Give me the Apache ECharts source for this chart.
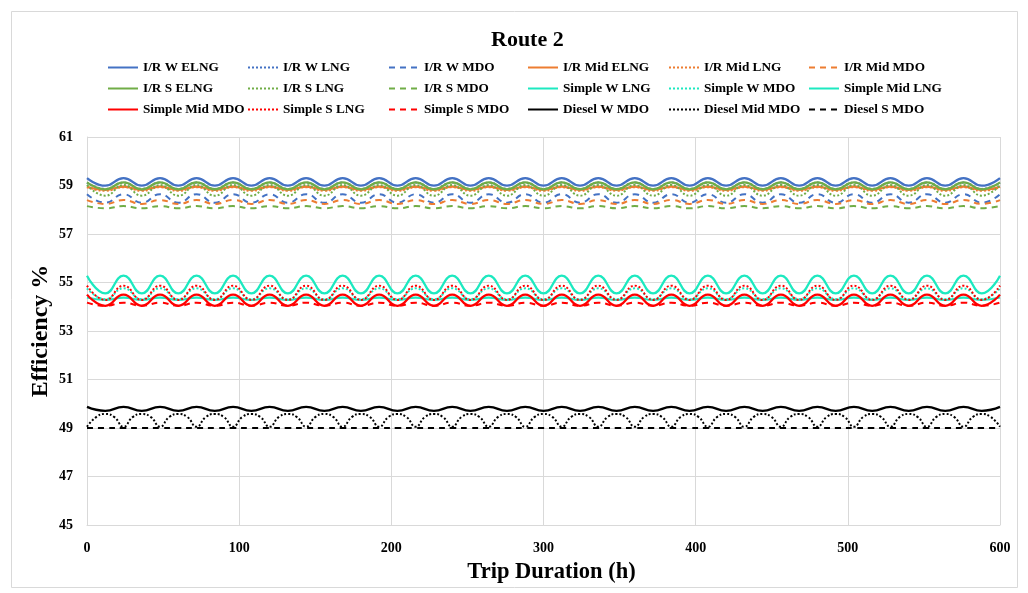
<!DOCTYPE html>
<html>
<head>
<meta charset="utf-8">
<script src="https://cdn.jsdelivr.net/npm/echarts@6/dist/echarts.min.js"></script>
<style>html,body{margin:0;padding:0;background:#fff}#c{width:1028px;height:593px}</style>
</head>
<body>
<div id="c"></div>
<script>
// x values (hours)
const hours12 = [0,12,24,36,48,60,72,84,96,108,120,132,144,156,168,180,192,204,216,228,240,252,264,276,288,300,312,324,336,348,360,372,384,396,408,420,432,444,456,468,480,492,504,516,528,540,552,564,576,588,600];
const hours6 = [0,6,12,18,24,30,36,42,48,54,60,66,72,78,84,90,96,102,108,114,120,126,132,138,144,150,156,162,168,174,180,186,192,198,204,210,216,222,228,234,240,246,252,258,264,270,276,282,288,294,300,306,312,318,324,330,336,342,348,354,360,366,372,378,384,390,396,402,408,414,420,426,432,438,444,450,456,462,468,474,480,486,492,498,504,510,516,522,528,534,540,546,552,558,564,570,576,582,588,594,600];

const seriesNames = ['I/R W ELNG','I/R W LNG','I/R W MDO','I/R Mid ELNG','I/R Mid LNG','I/R Mid MDO',
  'I/R S ELNG','I/R S LNG','I/R S MDO','Simple W LNG','Simple W MDO','Simple Mid LNG',
  'Simple Mid MDO','Simple S LNG','Simple S MDO','Diesel W MDO','Diesel Mid MDO','Diesel S MDO'];

const irWElng = [
59.30,58.99,59.30,58.99,59.30,58.99,59.30,58.99,59.30,58.99,
59.30,58.99,59.30,58.99,59.30,58.99,59.30,58.99,59.30,58.99,
59.30,58.99,59.30,58.99,59.30,58.99,59.30,58.99,59.30,58.99,
59.30,58.99,59.30,58.99,59.30,58.99,59.30,58.99,59.30,58.99,
59.30,58.99,59.30,58.99,59.30,58.99,59.30,58.99,59.30,58.99,
59.30];
const irWLng = [
59.12,58.86,59.12,58.86,59.12,58.86,59.12,58.86,59.12,58.86,
59.12,58.86,59.12,58.86,59.12,58.86,59.12,58.86,59.12,58.86,
59.12,58.86,59.12,58.86,59.12,58.86,59.12,58.86,59.12,58.86,
59.12,58.86,59.12,58.86,59.12,58.86,59.12,58.86,59.12,58.86,
59.12,58.86,59.12,58.86,59.12,58.86,59.12,58.86,59.12,58.86,
59.12];
const irWMdo = [
58.64,58.29,58.64,58.29,58.64,58.29,58.64,58.29,58.64,58.29,
58.64,58.29,58.64,58.29,58.64,58.29,58.64,58.29,58.64,58.29,
58.64,58.29,58.64,58.29,58.64,58.29,58.64,58.29,58.64,58.29,
58.64,58.29,58.64,58.29,58.64,58.29,58.64,58.29,58.64,58.29,
58.64,58.29,58.64,58.29,58.64,58.29,58.64,58.29,58.64,58.29,
58.64];
const irMidElng = [
58.95,58.82,58.95,58.82,58.95,58.82,58.95,58.82,58.95,58.82,
58.95,58.82,58.95,58.82,58.95,58.82,58.95,58.82,58.95,58.82,
58.95,58.82,58.95,58.82,58.95,58.82,58.95,58.82,58.95,58.82,
58.95,58.82,58.95,58.82,58.95,58.82,58.95,58.82,58.95,58.82,
58.95,58.82,58.95,58.82,58.95,58.82,58.95,58.82,58.95,58.82,
58.95];
const irMidLng = [
58.93,58.78,58.93,58.78,58.93,58.78,58.93,58.78,58.93,58.78,
58.93,58.78,58.93,58.78,58.93,58.78,58.93,58.78,58.93,58.78,
58.93,58.78,58.93,58.78,58.93,58.78,58.93,58.78,58.93,58.78,
58.93,58.78,58.93,58.78,58.93,58.78,58.93,58.78,58.93,58.78,
58.93,58.78,58.93,58.78,58.93,58.78,58.93,58.78,58.93,58.78,
58.93];
const irMidMdo = [
58.40,58.24,58.40,58.24,58.40,58.24,58.40,58.24,58.40,58.24,
58.40,58.24,58.40,58.24,58.40,58.24,58.40,58.24,58.40,58.24,
58.40,58.24,58.40,58.24,58.40,58.24,58.40,58.24,58.40,58.24,
58.40,58.24,58.40,58.24,58.40,58.24,58.40,58.24,58.40,58.24,
58.40,58.24,58.40,58.24,58.40,58.24,58.40,58.24,58.40,58.24,
58.40];
const irSElng = [
59.13,58.84,59.13,58.84,59.13,58.84,59.13,58.84,59.13,58.84,
59.13,58.84,59.13,58.84,59.13,58.84,59.13,58.84,59.13,58.84,
59.13,58.84,59.13,58.84,59.13,58.84,59.13,58.84,59.13,58.84,
59.13,58.84,59.13,58.84,59.13,58.84,59.13,58.84,59.13,58.84,
59.13,58.84,59.13,58.84,59.13,58.84,59.13,58.84,59.13,58.84,
59.13];
const irSLng = [
59.02,58.58,59.02,58.58,59.02,58.58,59.02,58.58,59.02,58.58,
59.02,58.58,59.02,58.58,59.02,58.58,59.02,58.58,59.02,58.58,
59.02,58.58,59.02,58.58,59.02,58.58,59.02,58.58,59.02,58.58,
59.02,58.58,59.02,58.58,59.02,58.58,59.02,58.58,59.02,58.58,
59.02,58.58,59.02,58.58,59.02,58.58,59.02,58.58,59.02,58.58,
59.02];
const irSMdo = [
58.15,58.06,58.15,58.06,58.15,58.06,58.15,58.06,58.15,58.06,
58.15,58.06,58.15,58.06,58.15,58.06,58.15,58.06,58.15,58.06,
58.15,58.06,58.15,58.06,58.15,58.06,58.15,58.06,58.15,58.06,
58.15,58.06,58.15,58.06,58.15,58.06,58.15,58.06,58.15,58.06,
58.15,58.06,58.15,58.06,58.15,58.06,58.15,58.06,58.15,58.06,
58.15];
const simpleWLng = [
55.28,54.55,55.28,54.55,55.28,54.55,55.28,54.55,55.28,54.55,
55.28,54.55,55.28,54.55,55.28,54.55,55.28,54.55,55.28,54.55,
55.28,54.55,55.28,54.55,55.28,54.55,55.28,54.55,55.28,54.55,
55.28,54.55,55.28,54.55,55.28,54.55,55.28,54.55,55.28,54.55,
55.28,54.55,55.28,54.55,55.28,54.55,55.28,54.55,55.28,54.55,
55.28];
const simpleWMdo = [
54.76,54.31,54.76,54.31,54.76,54.31,54.76,54.31,54.76,54.31,
54.76,54.31,54.76,54.31,54.76,54.31,54.76,54.31,54.76,54.31,
54.76,54.31,54.76,54.31,54.76,54.31,54.76,54.31,54.76,54.31,
54.76,54.31,54.76,54.31,54.76,54.31,54.76,54.31,54.76,54.31,
54.76,54.31,54.76,54.31,54.76,54.31,54.76,54.31,54.76,54.31,
54.76];
const simpleMidLng = [
54.38,54.28,54.38,54.28,54.38,54.28,54.38,54.28,54.38,54.28,
54.38,54.28,54.38,54.28,54.38,54.28,54.38,54.28,54.38,54.28,
54.38,54.28,54.38,54.28,54.38,54.28,54.38,54.28,54.38,54.28,
54.38,54.28,54.38,54.28,54.38,54.28,54.38,54.28,54.38,54.28,
54.38,54.28,54.38,54.28,54.38,54.28,54.38,54.28,54.38,54.28,
54.38];
const simpleMidMdo = [
54.50,54.04,54.50,54.04,54.50,54.04,54.50,54.04,54.50,54.04,
54.50,54.04,54.50,54.04,54.50,54.04,54.50,54.04,54.50,54.04,
54.50,54.04,54.50,54.04,54.50,54.04,54.50,54.04,54.50,54.04,
54.50,54.04,54.50,54.04,54.50,54.04,54.50,54.04,54.50,54.04,
54.50,54.04,54.50,54.04,54.50,54.04,54.50,54.04,54.50,54.04,
54.50];
const simpleSLng = [
54.87,54.28,54.87,54.28,54.87,54.28,54.87,54.28,54.87,54.28,
54.87,54.28,54.87,54.28,54.87,54.28,54.87,54.28,54.87,54.28,
54.87,54.28,54.87,54.28,54.87,54.28,54.87,54.28,54.87,54.28,
54.87,54.28,54.87,54.28,54.87,54.28,54.87,54.28,54.87,54.28,
54.87,54.28,54.87,54.28,54.87,54.28,54.87,54.28,54.87,54.28,
54.87];
const simpleSMdo = [
54.17,54.04,54.17,54.04,54.17,54.04,54.17,54.04,54.17,54.04,
54.17,54.04,54.17,54.04,54.17,54.04,54.17,54.04,54.17,54.04,
54.17,54.04,54.17,54.04,54.17,54.04,54.17,54.04,54.17,54.04,
54.17,54.04,54.17,54.04,54.17,54.04,54.17,54.04,54.17,54.04,
54.17,54.04,54.17,54.04,54.17,54.04,54.17,54.04,54.17,54.04,
54.17];
const dieselWMdo = [
49.87,49.71,49.87,49.71,49.87,49.71,49.87,49.71,49.87,49.71,
49.87,49.71,49.87,49.71,49.87,49.71,49.87,49.71,49.87,49.71,
49.87,49.71,49.87,49.71,49.87,49.71,49.87,49.71,49.87,49.71,
49.87,49.71,49.87,49.71,49.87,49.71,49.87,49.71,49.87,49.71,
49.87,49.71,49.87,49.71,49.87,49.71,49.87,49.71,49.87,49.71,
49.87];
// sampled every 6 h (arch-shaped)
const dieselMidMdo = [
49.05,49.45,49.58,49.45,49.05,49.45,49.58,49.45,49.05,49.45,49.58,49.45,49.05,49.45,49.58,49.45,49.05,49.45,49.58,49.45,
49.05,49.45,49.58,49.45,49.05,49.45,49.58,49.45,49.05,49.45,49.58,49.45,49.05,49.45,49.58,49.45,49.05,49.45,49.58,49.45,
49.05,49.45,49.58,49.45,49.05,49.45,49.58,49.45,49.05,49.45,49.58,49.45,49.05,49.45,49.58,49.45,49.05,49.45,49.58,49.45,
49.05,49.45,49.58,49.45,49.05,49.45,49.58,49.45,49.05,49.45,49.58,49.45,49.05,49.45,49.58,49.45,49.05,49.45,49.58,49.45,
49.05,49.45,49.58,49.45,49.05,49.45,49.58,49.45,49.05,49.45,49.58,49.45,49.05,49.45,49.58,49.45,49.05,49.45,49.58,49.45,
49.05];
const dieselSMdo = [
49.00,49.00,49.00,49.00,49.00,49.00,49.00,49.00,49.00,49.00,
49.00,49.00,49.00,49.00,49.00,49.00,49.00,49.00,49.00,49.00,
49.00,49.00,49.00,49.00,49.00,49.00,49.00,49.00,49.00,49.00,
49.00,49.00,49.00,49.00,49.00,49.00,49.00,49.00,49.00,49.00,
49.00,49.00,49.00,49.00,49.00,49.00,49.00,49.00,49.00,49.00,
49.00];

const seriesValues = [irWElng, irWLng, irWMdo, irMidElng, irMidLng, irMidMdo,
  irSElng, irSLng, irSMdo, simpleWLng, simpleWMdo, simpleMidLng,
  simpleMidMdo, simpleSLng, simpleSMdo, dieselWMdo, dieselMidMdo, dieselSMdo];
const seriesX = seriesValues.map(v => v.length === hours6.length ? hours6 : hours12);

const yTicks = { min: 45, max: 61, interval: 2 };
const xTicks = { min: 0, max: 600, interval: 100 };

// styles
const BLUE = '#4472C4', ORANGE = '#ED7D31', GREEN = '#70AD47', CYAN = '#1DE9C0', RED = '#FF0000', BLACK = '#000000';
const colors = [BLUE, BLUE, BLUE, ORANGE, ORANGE, ORANGE, GREEN, GREEN, GREEN,
  CYAN, CYAN, CYAN, RED, RED, RED, BLACK, BLACK, BLACK];
const types = ['solid','dotted','dashed','solid','dotted','dashed','solid','dotted','dashed',
  'solid','dotted','solid','solid','dotted','dashed','solid','dotted','dashed'];

const FONT = '"Liberation Serif", "Times New Roman", serif';

const series = seriesNames.map((name, i) => ({
  name: name,
  type: 'line',
  data: seriesValues[i].map((v, k) => [seriesX[i][k], v]),
  smooth: 0.5,
  symbol: 'none',
  showSymbol: false,
  color: colors[i],
  lineStyle: {
    color: colors[i],
    width: types[i] === 'solid' ? 2.25 : 2,
    type: types[i] === 'dashed' ? [6, 5] : (types[i] === 'dotted' ? [2, 2] : 'solid')
  },
  animation: false
}));

const colLeft = [107, 247, 388, 527, 668, 808];
const legends = colLeft.map((left, c) => ({
  orient: 'vertical',
  left: left,
  top: 61,
  padding: 0,
  itemGap: 8,
  itemWidth: 30,
  itemHeight: 14,
  itemStyle: { opacity: 0 },
  data: [seriesNames[c], seriesNames[c + 6], seriesNames[c + 12]],
  textStyle: { fontFamily: FONT, fontWeight: 'bold', fontSize: 13.25, color: '#000' },
  selectedMode: false
}));

const chart = echarts.init(document.getElementById('c'), null, { renderer: 'canvas' });
chart.setOption({
  backgroundColor: '#ffffff',
  animation: false,
  title: {
    text: 'Route 2',
    left: 486,
    top: 24,
    textStyle: { fontFamily: FONT, fontWeight: 'bold', fontSize: 22, color: '#000' }
  },
  legend: legends,
  grid: { left: 87, right: 28, top: 137, bottom: 68, containLabel: false },
  xAxis: {
    type: 'value',
    min: xTicks.min, max: xTicks.max, interval: xTicks.interval,
    name: 'Trip Duration (h)',
    nameLocation: 'middle',
    nameGap: 36,
    nameTextStyle: { fontFamily: FONT, fontWeight: 'bold', fontSize: 22.5, color: '#000', padding: [0, 0, 0, 16] },
    axisLine: { show: true, lineStyle: { color: '#d9d9d9', width: 1 } },
    axisTick: { show: false },
    axisLabel: { margin: 16, fontFamily: FONT, fontWeight: 'bold', fontSize: 14, color: '#000' },
    splitLine: { show: true, lineStyle: { color: '#d9d9d9', width: 1 } }
  },
  yAxis: {
    type: 'value',
    min: yTicks.min, max: yTicks.max, interval: yTicks.interval,
    name: 'Efficiency %',
    nameLocation: 'middle',
    nameRotate: 90,
    nameGap: 34,
    nameMoveOverlap: false,
    nameTextStyle: { fontFamily: FONT, fontWeight: 'bold', fontSize: 24, color: '#000' },
    axisLine: { show: true, lineStyle: { color: '#d9d9d9', width: 1 } },
    axisTick: { show: false },
    axisLabel: { margin: 14, fontFamily: FONT, fontWeight: 'bold', fontSize: 14, color: '#000' },
    splitLine: { show: true, lineStyle: { color: '#d9d9d9', width: 1 } }
  },
  graphic: [{
    type: 'rect',
    shape: { x: 11.5, y: 11.5, width: 1006, height: 576 },
    style: { fill: 'none', stroke: '#d9d9d9', lineWidth: 1 },
    silent: true,
    z: -1
  }],
  series: series
});
</script>
</body>
</html>
